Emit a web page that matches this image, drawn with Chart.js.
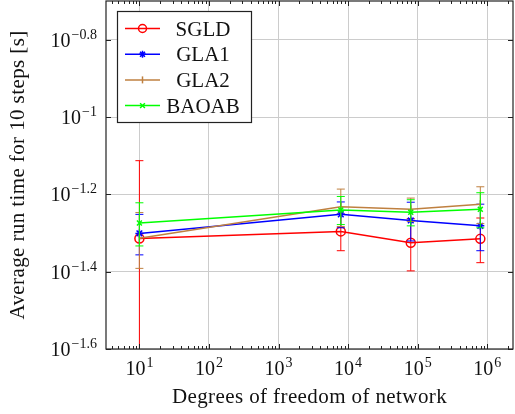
<!DOCTYPE html>
<html>
<head>
<meta charset="utf-8">
<script src="https://cdn.jsdelivr.net/npm/chart.js@4.4.1/dist/chart.umd.min.js"></script>
<style>
    html, body { margin: 0; padding: 0; background: #fff; }
    #wrap { width: 515px; height: 414px; }
</style>
</head>
<body>
<div id="wrap"><canvas id="runtimeChart"></canvas></div>
<script>
// degrees of freedom of the networks
const dof = [10, 7850, 79510, 795010];

// mean run time for 10 steps [s] and its standard deviation
const sgldTime = [0.0485, 0.0506, 0.0473, 0.0484];
const sgldStd = [0.0286, 0.0055, 0.0073, 0.0064];
const gla1Time = [0.0500, 0.0560, 0.0540, 0.0523];
const gla1Std = [0.0060, 0.0043, 0.0062, 0.0072];
const gla2Time = [0.0486, 0.0586, 0.0577, 0.0595];
const gla2Std = [0.0080, 0.0065, 0.0040, 0.0065];
const baoabTime = [0.0532, 0.0575, 0.0567, 0.0577];
const baoabStd = [0.0068, 0.0048, 0.0044, 0.0060];

// tick exponents (base 10) and their labels
const xTickExp = [1, 2, 3, 4, 5, 6];
const xTickLabels = ['1', '2', '3', '4', '5', '6'];
const yTickExp = [-1.6, -1.4, -1.2, -1, -0.8];
const yTickLabels = ['\u22121.6', '\u22121.4', '\u22121.2', '\u22121', '\u22120.8'];

const xTitle = 'Degrees of freedom of network';
const yTitle = 'Average run time for 10 steps [s]';

const serif = "'Liberation Serif', 'DejaVu Serif', serif";

const series = [
    { label: 'SGLD', data: sgldTime, std: sgldStd, color: '#ff0000', style: 'circle', radius: 4.5, rot: 0 },
    { label: 'GLA1', data: gla1Time, std: gla1Std, color: '#0000ff', style: 'star', radius: 4, rot: 0 },
    { label: 'GLA2', data: gla2Time, std: gla2Std, color: '#bf8040', style: 'line', radius: 4, rot: 90 },
    { label: 'BAOAB', data: baoabTime, std: baoabStd, color: '#00ff00', style: 'crossRot', radius: 3.5, rot: 0 }
];

const datasets = series.map((s, k) => ({
    label: s.label,
    data: dof.map((x, i) => ({ x: x, y: s.data[i] })),
    std: s.std,
    borderColor: s.color,
    backgroundColor: s.color,
    borderWidth: 1.5,
    pointStyle: s.style,
    pointRadius: s.radius,
    pointRotation: s.rot,
    pointBorderWidth: 1.5,
    pointBorderColor: s.color,
    pointBackgroundColor: 'rgba(0,0,0,0)',
    order: series.length - k
}));

function drawMarker(ctx, style, x, y, r) {
    ctx.beginPath();
    if (style === 'circle') {
        ctx.arc(x, y, r, 0, Math.PI * 2);
    } else if (style === 'star') {
        ctx.moveTo(x - r, y); ctx.lineTo(x + r, y);
        ctx.moveTo(x, y - r); ctx.lineTo(x, y + r);
        const d = r * 0.707;
        ctx.moveTo(x - d, y - d); ctx.lineTo(x + d, y + d);
        ctx.moveTo(x - d, y + d); ctx.lineTo(x + d, y - d);
    } else if (style === 'line') {
        ctx.moveTo(x, y - r); ctx.lineTo(x, y + r);
    } else {
        const d = r * 0.8;
        ctx.moveTo(x - d, y - d); ctx.lineTo(x + d, y + d);
        ctx.moveTo(x - d, y + d); ctx.lineTo(x + d, y - d);
    }
    ctx.stroke();
}

function drawPower(ctx, exp, x, y, align) {
    ctx.font = '20px ' + serif;
    const wb = ctx.measureText('10').width;
    ctx.font = '14px ' + serif;
    const we = ctx.measureText(exp).width;
    const total = wb + 1 + we;
    const x0 = align === 'center' ? x - total / 2 : x - total;
    ctx.textAlign = 'left';
    ctx.textBaseline = 'alphabetic';
    ctx.font = '20px ' + serif;
    ctx.fillText('10', x0, y);
    ctx.font = '14px ' + serif;
    ctx.fillText(exp, x0 + wb + 1, y - 8);
}

const errorBars = {
    id: 'errorBars',
    beforeDatasetDraw(chart, args) {
        const ds = chart.data.datasets[args.index];
        const { ctx, chartArea, scales } = chart;
        ctx.save();
        ctx.beginPath();
        ctx.rect(chartArea.left, chartArea.top, chartArea.width, chartArea.height);
        ctx.clip();
        ctx.strokeStyle = ds.borderColor;
        ctx.lineWidth = 1;
        ds.data.forEach((p, i) => {
            const px = scales.x.getPixelForValue(p.x);
            const hi = p.y + ds.std[i];
            const lo = p.y - ds.std[i];
            const yHi = scales.y.getPixelForValue(hi);
            const yLo = lo > 0 ? scales.y.getPixelForValue(lo) : chartArea.bottom + 20;
            ctx.beginPath();
            ctx.moveTo(px, yHi); ctx.lineTo(px, yLo);
            ctx.moveTo(px - 4, yHi); ctx.lineTo(px + 4, yHi);
            ctx.moveTo(px - 4, yLo); ctx.lineTo(px + 4, yLo);
            ctx.stroke();
        });
        ctx.restore();
    }
};

const axesDecor = {
    id: 'axesDecor',
    afterDraw(chart) {
        const { ctx, chartArea, scales } = chart;
        const { left, right, top, bottom } = chartArea;
        ctx.save();
        ctx.strokeStyle = '#222';
        ctx.lineWidth = 1;

        // tick marks, inward on all four sides
        ctx.beginPath();
        for (let d = 0; d <= 6; d++) {
            for (let m = 1; m <= 9; m++) {
                const v = m * Math.pow(10, d);
                const px = scales.x.getPixelForValue(v);
                if (px < left || px > right) continue;
                const len = m === 1 ? 5 : 3;
                const xx = Math.round(px) + 0.5;
                ctx.moveTo(xx, bottom); ctx.lineTo(xx, bottom - len);
                ctx.moveTo(xx, top); ctx.lineTo(xx, top + len);
            }
        }
        yTickExp.forEach(e => {
            const yy = Math.round(scales.y.getPixelForValue(Math.pow(10, e))) + 0.5;
            ctx.moveTo(left, yy); ctx.lineTo(left + 5, yy);
            ctx.moveTo(right, yy); ctx.lineTo(right - 5, yy);
        });
        ctx.stroke();

        // frame
        ctx.lineWidth = 1.2;
        ctx.strokeRect(left, top, right - left, bottom - top);

        // tick labels
        ctx.fillStyle = '#111';
        xTickExp.forEach((e, i) => {
            drawPower(ctx, xTickLabels[i], scales.x.getPixelForValue(Math.pow(10, e)), bottom + 26, 'center');
        });
        yTickExp.forEach((e, i) => {
            drawPower(ctx, yTickLabels[i], left - 9, scales.y.getPixelForValue(Math.pow(10, e)) + 7, 'right');
        });

        // axis titles
        ctx.font = '21px ' + serif;
        ctx.letterSpacing = '0.4px';
        ctx.textAlign = 'center';
        ctx.textBaseline = 'alphabetic';
        ctx.fillText(xTitle, (left + right) / 2, 403);
        ctx.save();
        ctx.translate(24, (top + bottom) / 2);
        ctx.rotate(-Math.PI / 2);
        ctx.fillText(yTitle, 0, 0);
        ctx.restore();
        ctx.letterSpacing = '0px';

        // legend
        const bx = 117.5, by = 11.5, bw = 134, bh = 111;
        ctx.fillStyle = '#fff';
        ctx.fillRect(bx, by, bw, bh);
        ctx.lineWidth = 1.2;
        ctx.strokeStyle = '#222';
        ctx.strokeRect(bx, by, bw, bh);
        series.forEach((s, k) => {
            const ry = 28.5 + k * 25.7;
            ctx.strokeStyle = s.color;
            ctx.lineWidth = 1.5;
            ctx.beginPath();
            ctx.moveTo(125, ry); ctx.lineTo(160, ry);
            ctx.stroke();
            drawMarker(ctx, s.style, 142.5, ry, s.radius - 0.5);
            ctx.fillStyle = '#111';
            ctx.font = '21px ' + serif;
            ctx.textAlign = 'center';
            ctx.fillText(s.label, 203, ry + 7);
        });
        ctx.restore();
    }
};

new Chart(document.getElementById('runtimeChart'), {
    type: 'line',
    data: { datasets: datasets },
    options: {
        responsive: true,
        maintainAspectRatio: false,
        animation: false,
        layout: { autoPadding: false, padding: { top: 1, right: 2, left: 0, bottom: 0 } },
        plugins: {
            legend: { display: false },
            tooltip: { enabled: false }
        },
        scales: {
            x: {
                type: 'logarithmic',
                min: Math.pow(10, 0.52),
                max: Math.pow(10, 6.37),
                afterBuildTicks: scale => { scale.ticks = xTickExp.map(e => ({ value: Math.pow(10, e) })); },
                afterFit: scale => { scale.height = 65; },
                ticks: { display: false },
                grid: { color: '#cccccc', drawTicks: false },
                border: { display: false }
            },
            y: {
                type: 'logarithmic',
                min: Math.pow(10, -1.6),
                max: Math.pow(10, -0.7),
                afterBuildTicks: scale => { scale.ticks = yTickExp.map(e => ({ value: Math.pow(10, e) })); },
                afterFit: scale => { scale.width = 106; },
                ticks: { display: false },
                grid: { color: '#cccccc', drawTicks: false },
                border: { display: false }
            }
        }
    },
    plugins: [errorBars, axesDecor]
});
</script>
</body>
</html>
